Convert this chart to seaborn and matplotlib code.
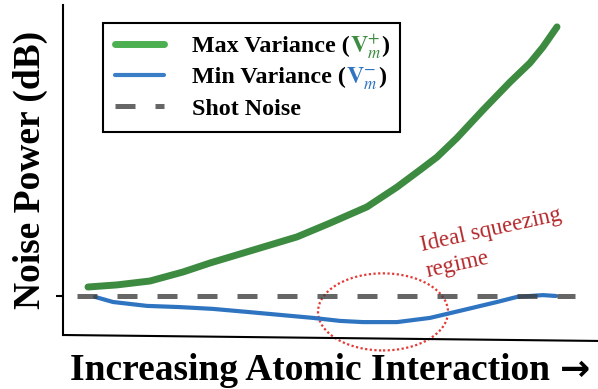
import numpy as np
import pandas as pd
import seaborn as sns
import matplotlib.pyplot as plt
from matplotlib.patches import Ellipse

# curves (x = interaction, y = noise power in dB rel. shot noise)
max_x = [0.50, 1.08, 1.74, 2.40, 2.94, 3.34, 4.14, 4.68, 5.34, 6.08, 6.68, 7.14, 7.48, 7.88, 8.40, 8.94, 9.34, 9.60, 9.88]
max_y = [0.30, 0.37, 0.50, 0.80, 1.10, 1.30, 1.70, 1.97, 2.43, 2.97, 3.63, 4.20, 4.63, 5.27, 6.20, 7.13, 7.77, 8.30, 8.97]
min_x = [0.64, 1.00, 1.68, 2.34, 3.00, 3.68, 4.34, 5.00, 5.54, 6.00, 6.68, 7.34, 8.00, 8.68, 9.08, 9.60, 9.86]
min_y = [-0.03, -0.20, -0.33, -0.37, -0.43, -0.53, -0.63, -0.73, -0.83, -0.87, -0.87, -0.73, -0.47, -0.20, -0.03, 0.03, 0.00]
shot_x = [0.28, 10.24]
shot_y = [0.0, 0.0]

labels = ["Max Variance (", "Min Variance (", "Shot Noise"]
math_parts = [r"$\mathbf{V}_{m}^{+}$", r"$\mathbf{V}_{m}^{-}$"]
green = "#3d8b40"
blue = "#2f74c0"

sns.set_theme(style="white")
plt.rcParams["font.family"] = ["Liberation Serif", "DejaVu Serif"]
plt.rcParams["mathtext.fontset"] = "stix"
plt.rcParams["text.color"] = "black"
plt.rcParams["axes.labelcolor"] = "black"

fig = plt.figure(figsize=(5.98, 3.89), dpi=100)
ax = fig.add_axes([63/598, 54/389, 535/598, 330/389])

sns.lineplot(x=max_x, y=max_y, ax=ax, color=green, lw=5, label=labels[0],
             solid_capstyle="round", solid_joinstyle="round")
sns.lineplot(x=min_x, y=min_y, ax=ax, color=blue, lw=3, label=labels[1],
             solid_capstyle="round", solid_joinstyle="round")
sns.lineplot(x=shot_x, y=shot_y, ax=ax, color="#404040", alpha=0.8, lw=3.6,
             linestyle=(0, (4.0, 4.0)), label=labels[2])

ax.set_xlim(0, 10.7)
ax.set_ylim(-1.3, 9.7)
ax.set_xticks([])
ax.set_yticks([0])
ax.set_yticklabels([""])
ax.tick_params(axis="y", direction="out", length=5, width=1.5, color="black", left=True)
for s in ["top", "right", "bottom"]:
    ax.spines[s].set_visible(False)
ax.spines["left"].set_color("black")
ax.spines["left"].set_linewidth(1.5)
# slightly tilted bottom axis line like the original drawing
ax.plot([0, 1], [0, -0.018], transform=ax.transAxes, color="black", lw=1.5, clip_on=False)

# squeezing region
ax.add_patch(Ellipse((6.4, -0.53), 2.6, 2.57, fill=False, ec="#e53935", lw=1.6,
                     ls=(0, (1, 1.1)), clip_on=False))
# anchored at the baseline of the last line ("regime")
ax.text(7.26, 0.82, "Ideal squeezing\nregime", rotation=12.5, rotation_mode="anchor",
        ha="left", va="baseline", ma="left", fontsize=16.6, color="#b3282b",
        linespacing=1.35)

ax.set_ylabel("Noise Power (dB)", fontsize=27, fontweight="bold", labelpad=2)
ax.set_xlabel("Increasing Atomic Interaction", fontsize=27, fontweight="bold",
              ha="left", va="baseline")
ax.xaxis.set_label_coords(0.013, -0.136)

leg = ax.legend(loc="upper left", bbox_to_anchor=(0.075, 0.612, 0.555, 0.333), mode="expand",
                borderaxespad=0, fancybox=False, edgecolor="black", framealpha=1,
                prop={"weight": "bold", "size": 17.3}, handlelength=2.04,
                handletextpad=1.17, labelspacing=0.4, borderpad=0.5)
leg.get_frame().set_linewidth(1.5)
leg.get_lines()[0].set_color("#4caf50")
leg.get_lines()[1].set_color("#3a7ec8")
for t in leg.get_texts():
    t.set_color("black")

# coloured V_m symbols after the legend text, arrow after the x label
fig.canvas.draw()
r = fig.canvas.get_renderer()
W, H = fig.bbox.width, fig.bbox.height
for t, m, c in zip(leg.get_texts()[:2], math_parts, [green, blue]):
    bx = t.get_window_extent(r).x1
    by = t.get_transform().transform(t.get_unitless_position())[1]
    v = fig.text(bx / W, by / H, m, fontsize=17.3, color=c, ha="left", va="baseline")
    vx = v.get_window_extent(r).x1
    fig.text(vx / W, by / H, ")", fontsize=17.3, fontweight="bold", ha="left", va="baseline")

xl = ax.xaxis.label
xb = xl.get_window_extent(r)
fig.text((xb.x1 + 10) / W, (389 - 380) / H, "\u2192", family="DejaVu Sans",
         fontweight="bold", fontsize=26, ha="left", va="baseline")

fig.savefig("out.png", dpi=100)
